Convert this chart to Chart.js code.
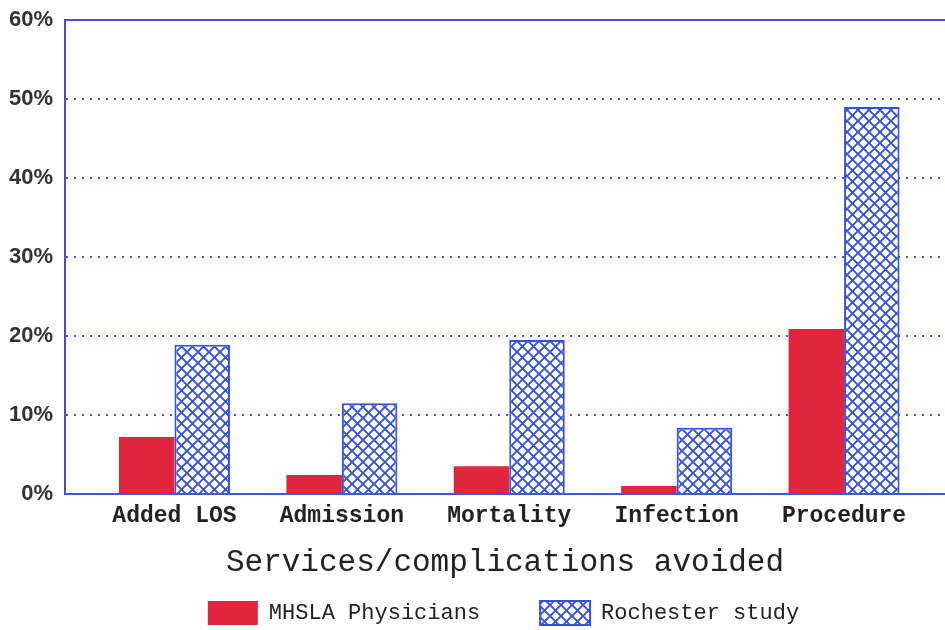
<!DOCTYPE html>
<html><head><meta charset="utf-8">
<script src="https://cdn.jsdelivr.net/npm/chart.js@4.4.1/dist/chart.umd.min.js"></script>
<style>html,body{margin:0;padding:0;background:#fff;overflow:hidden}canvas{display:block}</style>
</head><body>
<canvas id="c" width="945" height="630"></canvas>
<script>
const categories = ['Added LOS', 'Admission', 'Mortality', 'Infection', 'Procedure'];
const mhslaPhysicians = [7.2, 2.4, 3.5, 1.0, 20.9];
const rochesterStudy = [18.9, 11.5, 19.5, 8.4, 49.0];
const yTicks = [0, 10, 20, 30, 40, 50, 60];
const seriesNames = ['MHSLA Physicians', 'Rochester study'];
const xTitle = 'Services/complications avoided';

function hatch() {
  const s = 11;
  const c = document.createElement('canvas');
  c.width = s; c.height = s;
  const g = c.getContext('2d');
  g.fillStyle = '#ffffff';
  g.fillRect(0, 0, s, s);
  g.strokeStyle = '#3550dc';
  g.lineWidth = 1.9;
  g.beginPath();
  g.moveTo(-1, -1); g.lineTo(s + 1, s + 1);
  g.moveTo(s + 1, -1); g.lineTo(-1, s + 1);
  g.stroke();
  return g.createPattern(c, 'repeat');
}

const legendShift = {
  id: 'legendShift',
  afterLayout(chart) {
    const l = chart.legend;
    if (!l) return;
    const dy = 541 - l.top;
    l.top += dy;
    l.bottom = chart.height;
    l.left += 31;
    l.right += 31;
  }
};

new Chart(document.getElementById('c'), {
  type: 'bar',
  data: {
    datasets: [
      { label: seriesNames[0], data: mhslaPhysicians.map((v, i) => ({ x: i, y: v })),
        backgroundColor: '#e0263c', borderWidth: 0 },
      { label: seriesNames[1], data: rochesterStudy.map((v, i) => ({ x: i, y: v })),
        backgroundColor: hatch(), borderColor: '#3550dc', borderWidth: 2 }
    ]
  },
  plugins: [legendShift],
  options: {
    responsive: false,
    animation: false,
    events: [],
    categoryPercentage: 0.663,
    barPercentage: 1,
    layout: { padding: { top: 20, left: 0, right: 0, bottom: 0 } },
    scales: {
      x: {
        type: 'linear', min: -0.654, max: 4.603, offset: false,
        grid: { drawOnChartArea: false, drawTicks: false, offset: false },
        border: { display: true, color: '#3a5ad8', width: 2 },
        afterBuildTicks: s => { s.ticks = categories.map((_, i) => ({ value: i })); },
        ticks: { autoSkip: false, maxRotation: 0, padding: 8, color: '#222',
          font: { family: 'Liberation Mono', weight: 'bold', size: 23 },
          callback: v => categories[v] ?? '' },
        title: { display: true, text: xTitle, color: '#222',
          font: { family: 'Liberation Mono', size: 31 }, padding: { top: 0, bottom: 9 } },
        afterFit: s => { s.height = 96; }
      },
      y: {
        min: 0, max: 60,
        afterBuildTicks: s => { s.ticks = yTicks.map(v => ({ value: v })); },
        ticks: { padding: 12, color: '#333',
          font: { family: 'Liberation Sans', weight: 'bold', size: 22 },
          callback: v => v + '%' },
        grid: { color: '#4a4ee0', lineWidth: 2, drawTicks: false },
        border: { display: true, color: '#4a4ad8', width: 2,
          dash: ctx => (ctx.tick && ctx.tick.value > 0 && ctx.tick.value < 60) ? [2, 6] : [] },
        afterFit: s => { s.width = 65; s.paddingTop = 0; s.paddingBottom = 0; }
      }
    },
    plugins: {
      tooltip: { enabled: false },
      legend: {
        position: 'bottom', maxHeight: 40,
        labels: { boxWidth: 50, boxHeight: 24, padding: 60, color: '#222',
          font: { family: 'Liberation Mono', size: 22 } }
      }
    }
  }
});
</script>
</body></html>
